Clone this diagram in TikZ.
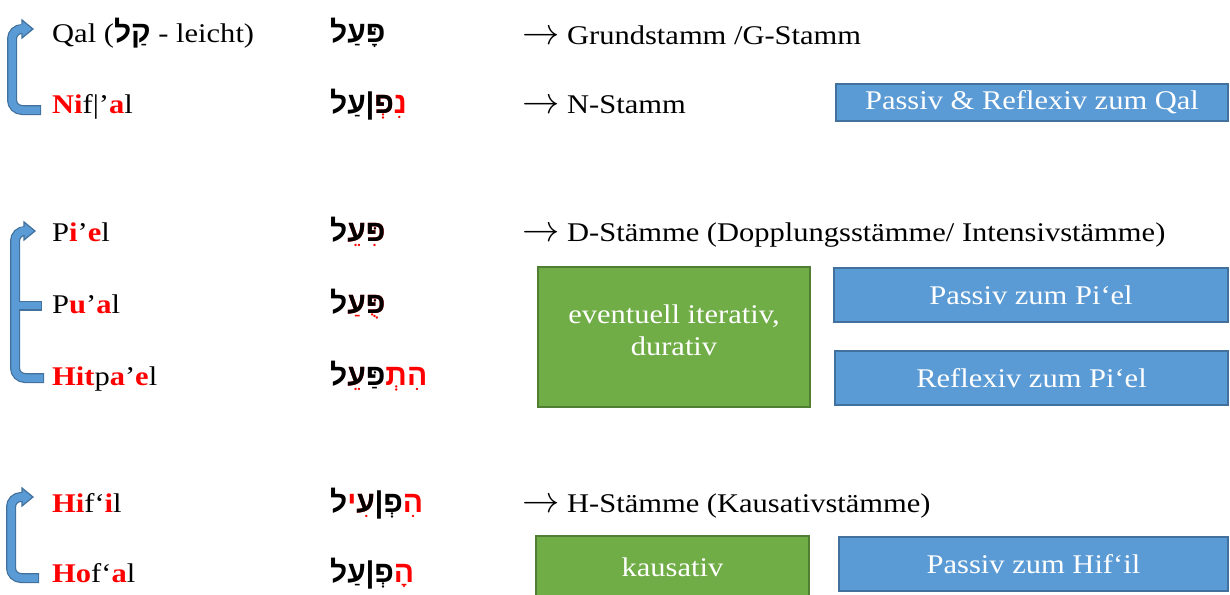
\documentclass[tikz,border=0pt]{standalone}
\usepackage{graphicx}
\usepackage{fontspec}
\setmainfont[FakeStretch=1.13]{Liberation Serif}
\newfontfamily\hebfont[Script=Hebrew]{Liberation Sans}
\definecolor{bfill}{RGB}{91,155,213}
\definecolor{bdark}{RGB}{65,113,156}
\definecolor{gfill}{RGB}{112,173,71}
\definecolor{gdark}{RGB}{80,126,50}
\definecolor{hred}{RGB}{255,0,0}
% Hebrew letters and points
\def\HPe{^^^^05e4}\def\HAy{^^^^05e2}\def\HLa{^^^^05dc}\def\HQo{^^^^05e7}
\def\HNu{^^^^05e0}\def\HHe{^^^^05d4}\def\HTa{^^^^05ea}\def\HYo{^^^^05d9}
\def\NQa{^^^^05b8}\def\NPa{^^^^05b7}\def\NHi{^^^^05b4}\def\NTs{^^^^05b5}
\def\NSh{^^^^05b0}\def\NQu{^^^^05bb}\def\NDa{^^^^05bc}
\newcommand\hc[2]{\hbox{\textcolor{#1}{#2}}}
\newcommand\hm[2]{\hbox{\rlap{\textcolor{hred}{#1}}#2}}
\newcommand\rb[1]{\textcolor{hred}{\bfseries #1}}
\newcommand\rarr{\scalebox{1.5}{$\rightarrow$}}
\tikzset{
  lbl/.style={anchor=base west, inner sep=0pt, font=\fontsize{27}{32}\selectfont},
  heb/.style={anchor=base west, inner sep=0pt, font=\fontsize{30}{34}\selectfont\hebfont\bfseries},
  bbox/.style={draw=bdark, line width=2pt, fill=bfill, text=white, inner sep=0pt, font=\fontsize{27}{32}\selectfont},
  gbox/.style={draw=gdark, line width=2pt, fill=gfill, text=white, inner sep=0pt, font=\fontsize{27}{32}\selectfont},
  boxtxt/.style={text=white, inner sep=0pt, align=center, font=\fontsize{27}{32}\selectfont},
  brout/.style={draw=bdark, line width=10pt, rounded corners=10pt},
  brin/.style={draw=bfill, line width=7.5pt, rounded corners=10pt},
  brhead/.style={fill=bfill, draw=bdark, line width=1.2pt, line join=miter},
  brpatch/.style={draw=bfill, line width=7.5pt},
}
\begin{document}
\begin{tikzpicture}[x=1pt,y=-1pt]
\useasboundingbox[fill=white] (0,0) rectangle (1230,594);

% ---------- labels ----------
\node[lbl] (qal) at (52,43) {Qal (\hbox{\hebfont\bfseries\fontsize{30}{34}\selectfont\hc{black}{\HLa}\hc{black}{\HQo\NPa}} - leicht)};
\node[lbl] (nif) at (52,113) {\rb{Ni}f|’\rb{a}l};
\node[lbl] (pie) at (52,241) {P\rb{i}’\rb{e}l};
\node[lbl] (pua) at (52,313) {P\rb{u}’\rb{a}l};
\node[lbl] (hit) at (52,385) {\rb{Hit}p\rb{a}’\rb{e}l};
\node[lbl] (hif) at (52,512) {\rb{Hi}f‘\rb{i}l};
\node[lbl] (hof) at (52,582) {\rb{Ho}f‘\rb{a}l};

% ---------- Hebrew forms ----------
\node[heb] (hqal) at (330,43) {\hc{black}{\HLa}\hc{black}{\HAy\NPa}\hc{black}{\HPe\NDa\NQa}};
\node[heb] (hnif) at (330,113) {\hc{black}{\HLa}\hc{black}{\HAy\NPa}\hc{black}{|}\hm{\HPe\NSh}{\HPe}\hc{hred}{\HNu\NHi}};
\node[heb] (hpie) at (330,241) {\hc{black}{\HLa}\hm{\HAy\NTs}{\HAy}\hm{\HPe\NDa\NHi}{\HPe\NDa}};
\node[heb] (hpua) at (330,313) {\hc{black}{\HLa}\hm{\HAy\NPa}{\HAy}\hm{\HPe\NDa\NQu}{\HPe\NDa}};
\node[heb] (hhit) at (330,385) {\hc{black}{\HLa}\hm{\HAy\NTs}{\HAy}\hc{black}{\HPe\NDa\NPa}\hc{hred}{\HTa\NSh}\hc{hred}{\HHe\NHi}};
\node[heb] (hhif) at (330,512) {\hc{black}{\HLa}\hc{hred}{\HYo}\hm{\HAy\NHi}{\HAy}\hc{black}{|}\hc{black}{\HPe\NSh}\hc{hred}{\HHe\NHi}};
\node[heb] (hhof) at (330,582) {\hc{black}{\HLa}\hc{black}{\HAy\NPa}\hc{black}{|}\hc{black}{\HPe\NSh}\hc{hred}{\HHe\NQa}};

% ---------- stem descriptions ----------
\node[lbl] (g) at (522,45) {\rarr{} Grundstamm /G-Stamm};
\node[lbl] (n) at (522,113) {\rarr{} N-Stamm};
\node[lbl] (d) at (522,241) {\rarr{} D-Stämme (Dopplungsstämme/ Intensivstämme)};
\node[lbl] (h) at (522,512) {\rarr{} H-Stämme (Kausativstämme)};

% ---------- boxes ----------
\node[bbox, minimum width=392pt, minimum height=37pt] (pq) at (1032,102.5) {Passiv \& Reflexiv zum Qal};
\node[gbox, minimum width=272pt, minimum height=140pt] (it) at (674,337) {};
\node[boxtxt] (ittxt) at (674,330) {eventuell iterativ,\\durativ};
\node[bbox, minimum width=394pt, minimum height=54pt] (pp) at (1031,295) {Passiv zum Pi‘el};
\node[bbox, minimum width=393pt, minimum height=54pt] (rp) at (1031.5,378) {Reflexiv zum Pi‘el};
\node[gbox, minimum width=273pt, minimum height=64pt] (ka) at (672.5,568) {\raisebox{2pt}{kausativ}};
\node[bbox, minimum width=389pt, minimum height=54pt] (ph) at (1033.5,564) {Passiv zum Hif‘il};

% ---------- brackets ----------
% 1: Nif'al -> Qal
\coordinate (b1o) at (41.2,110);
\coordinate (b1e) at (40,110);
\coordinate (b1t) at (12,29);
\coordinate (b1h) at (22,29);
\draw[brout] (b1o) -| (b1t) -- (b1h);
\draw[brin] (b1e) -| (b1t) -- (b1h);
\filldraw[brhead] (22,20) -- (33,29) -- (22,38) -- cycle;
\draw[brpatch] (19,29) -- (23,29);

% 2: Pu'al, Hitpa'el -> Pi'el
\coordinate (b2o) at (44.2,378);
\coordinate (b2e) at (43,378);
\coordinate (b2t) at (15,231);
\coordinate (b2h) at (24,231);
\coordinate (b2m) at (15,305.5);
\coordinate (b2mo) at (42.2,305.5);
\coordinate (b2me) at (41,305.5);
\draw[brout] (b2o) -| (b2t) -- (b2h);
\draw[brout] (b2m) -- (b2mo);
\draw[brin] (b2e) -| (b2t) -- (b2h);
\draw[brin] (b2m) -- (b2me);
\filldraw[brhead] (24,222) -- (35,231) -- (24,240) -- cycle;
\draw[brpatch] (21,231) -- (25,231);

% 3: Hof'al -> Hif'il
\coordinate (b3o) at (39.2,578);
\coordinate (b3e) at (38,578);
\coordinate (b3t) at (11,497);
\coordinate (b3h) at (22,497);
\draw[brout] (b3o) -| (b3t) -- (b3h);
\draw[brin] (b3e) -| (b3t) -- (b3h);
\filldraw[brhead] (22,488) -- (33,497) -- (22,506) -- cycle;
\draw[brpatch] (19,497) -- (23,497);
\end{tikzpicture}
\end{document}
